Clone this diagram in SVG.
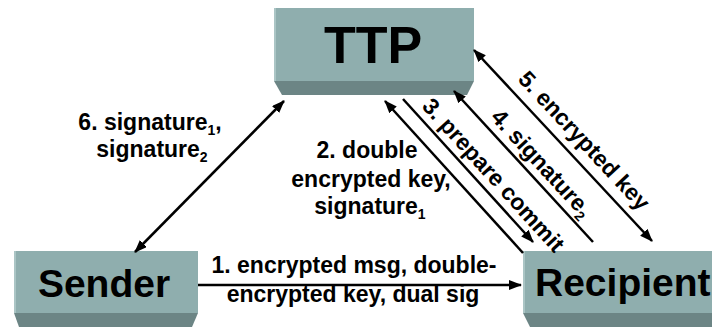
<svg xmlns="http://www.w3.org/2000/svg" width="712" height="327" viewBox="0 0 712 327">
<style>
.face{fill:#8FAEAE}
.bevel{fill:#6C8585}
.hl{fill:#ABC5C5}
.big{font-family:"Liberation Sans",Arial,sans-serif;font-weight:bold;fill:#000}
.lbl{font-family:"Liberation Sans",Arial,sans-serif;font-weight:bold;font-size:23px;fill:#000}
.sub{font-size:14px}
.conn{stroke:#000;stroke-width:2.5;fill:none}
</style>
<defs>
<marker id="ah" markerUnits="userSpaceOnUse" markerWidth="14" markerHeight="12" refX="12" refY="5" orient="auto-start-reverse" viewBox="0 0 14 12">
<path d="M0,0 L13,5 L0,10 z" fill="#000"/>
</marker>
</defs>
<rect width="712" height="327" fill="#fff"/>
<g id="ttp">
<rect class="face" x="274" y="8" width="200" height="73"/>
<rect class="hl" x="274" y="8" width="2" height="73"/>
<polygon class="bevel" points="274,81 474,81 467,95 282,95"/>
<text class="big" x="373" y="63" font-size="52" text-anchor="middle">TTP</text>
</g>
<g id="sender">
<rect class="face" x="14" y="251" width="184" height="62"/>
<rect class="hl" x="14" y="251" width="2" height="62"/>
<polygon class="bevel" points="14,313 198,313 192,327 19,327"/>
<text class="big" x="104" y="297" font-size="39" text-anchor="middle">Sender</text>
</g>
<g id="recipient">
<rect class="face" x="523" y="251" width="189" height="62"/>
<rect class="hl" x="523" y="251" width="2" height="62"/>
<polygon class="bevel" points="523,313 712,313 712,327 530,327"/>
<text class="big" x="535" y="296" font-size="39">Recipient</text>
</g>
<g id="connectors">
<line class="conn" x1="198" y1="285" x2="521" y2="285" marker-end="url(#ah)"/>
<line class="conn" x1="284" y1="101" x2="135" y2="252" marker-start="url(#ah)" marker-end="url(#ah)"/>
<line class="conn" x1="385" y1="101" x2="523" y2="253" marker-start="url(#ah)"/>
<line class="conn" x1="403" y1="99" x2="533" y2="242" marker-end="url(#ah)"/>
<line class="conn" x1="454" y1="91" x2="593" y2="242" marker-start="url(#ah)"/>
<line class="conn" x1="474" y1="50" x2="652" y2="241" marker-start="url(#ah)" marker-end="url(#ah)"/>
</g>
<g id="labels">
<text class="lbl" x="354" y="273" text-anchor="middle">1. encrypted msg, double-</text>
<text class="lbl" x="353" y="302" text-anchor="middle">encrypted key, dual sig</text>
<text class="lbl" x="150" y="130" text-anchor="middle">6. signature<tspan class="sub" dy="5">1</tspan><tspan dy="-5">,</tspan></text>
<text class="lbl" x="152" y="157" text-anchor="middle">signature<tspan class="sub" dy="5">2</tspan></text>
<text class="lbl" x="367" y="158" text-anchor="middle">2. double</text>
<text class="lbl" x="371" y="187" text-anchor="middle">encrypted key,</text>
<text class="lbl" x="370" y="214" text-anchor="middle">signature<tspan class="sub" dy="5">1</tspan></text>
<text class="lbl" transform="translate(421,107) rotate(47.7)">3. prepare commit</text>
<text class="lbl" transform="translate(489.7,118) rotate(47.4)">4. signature<tspan class="sub" dy="5">2</tspan></text>
<text class="lbl" transform="translate(517,80) rotate(47)">5. encrypted key</text>
</g>
</svg>
